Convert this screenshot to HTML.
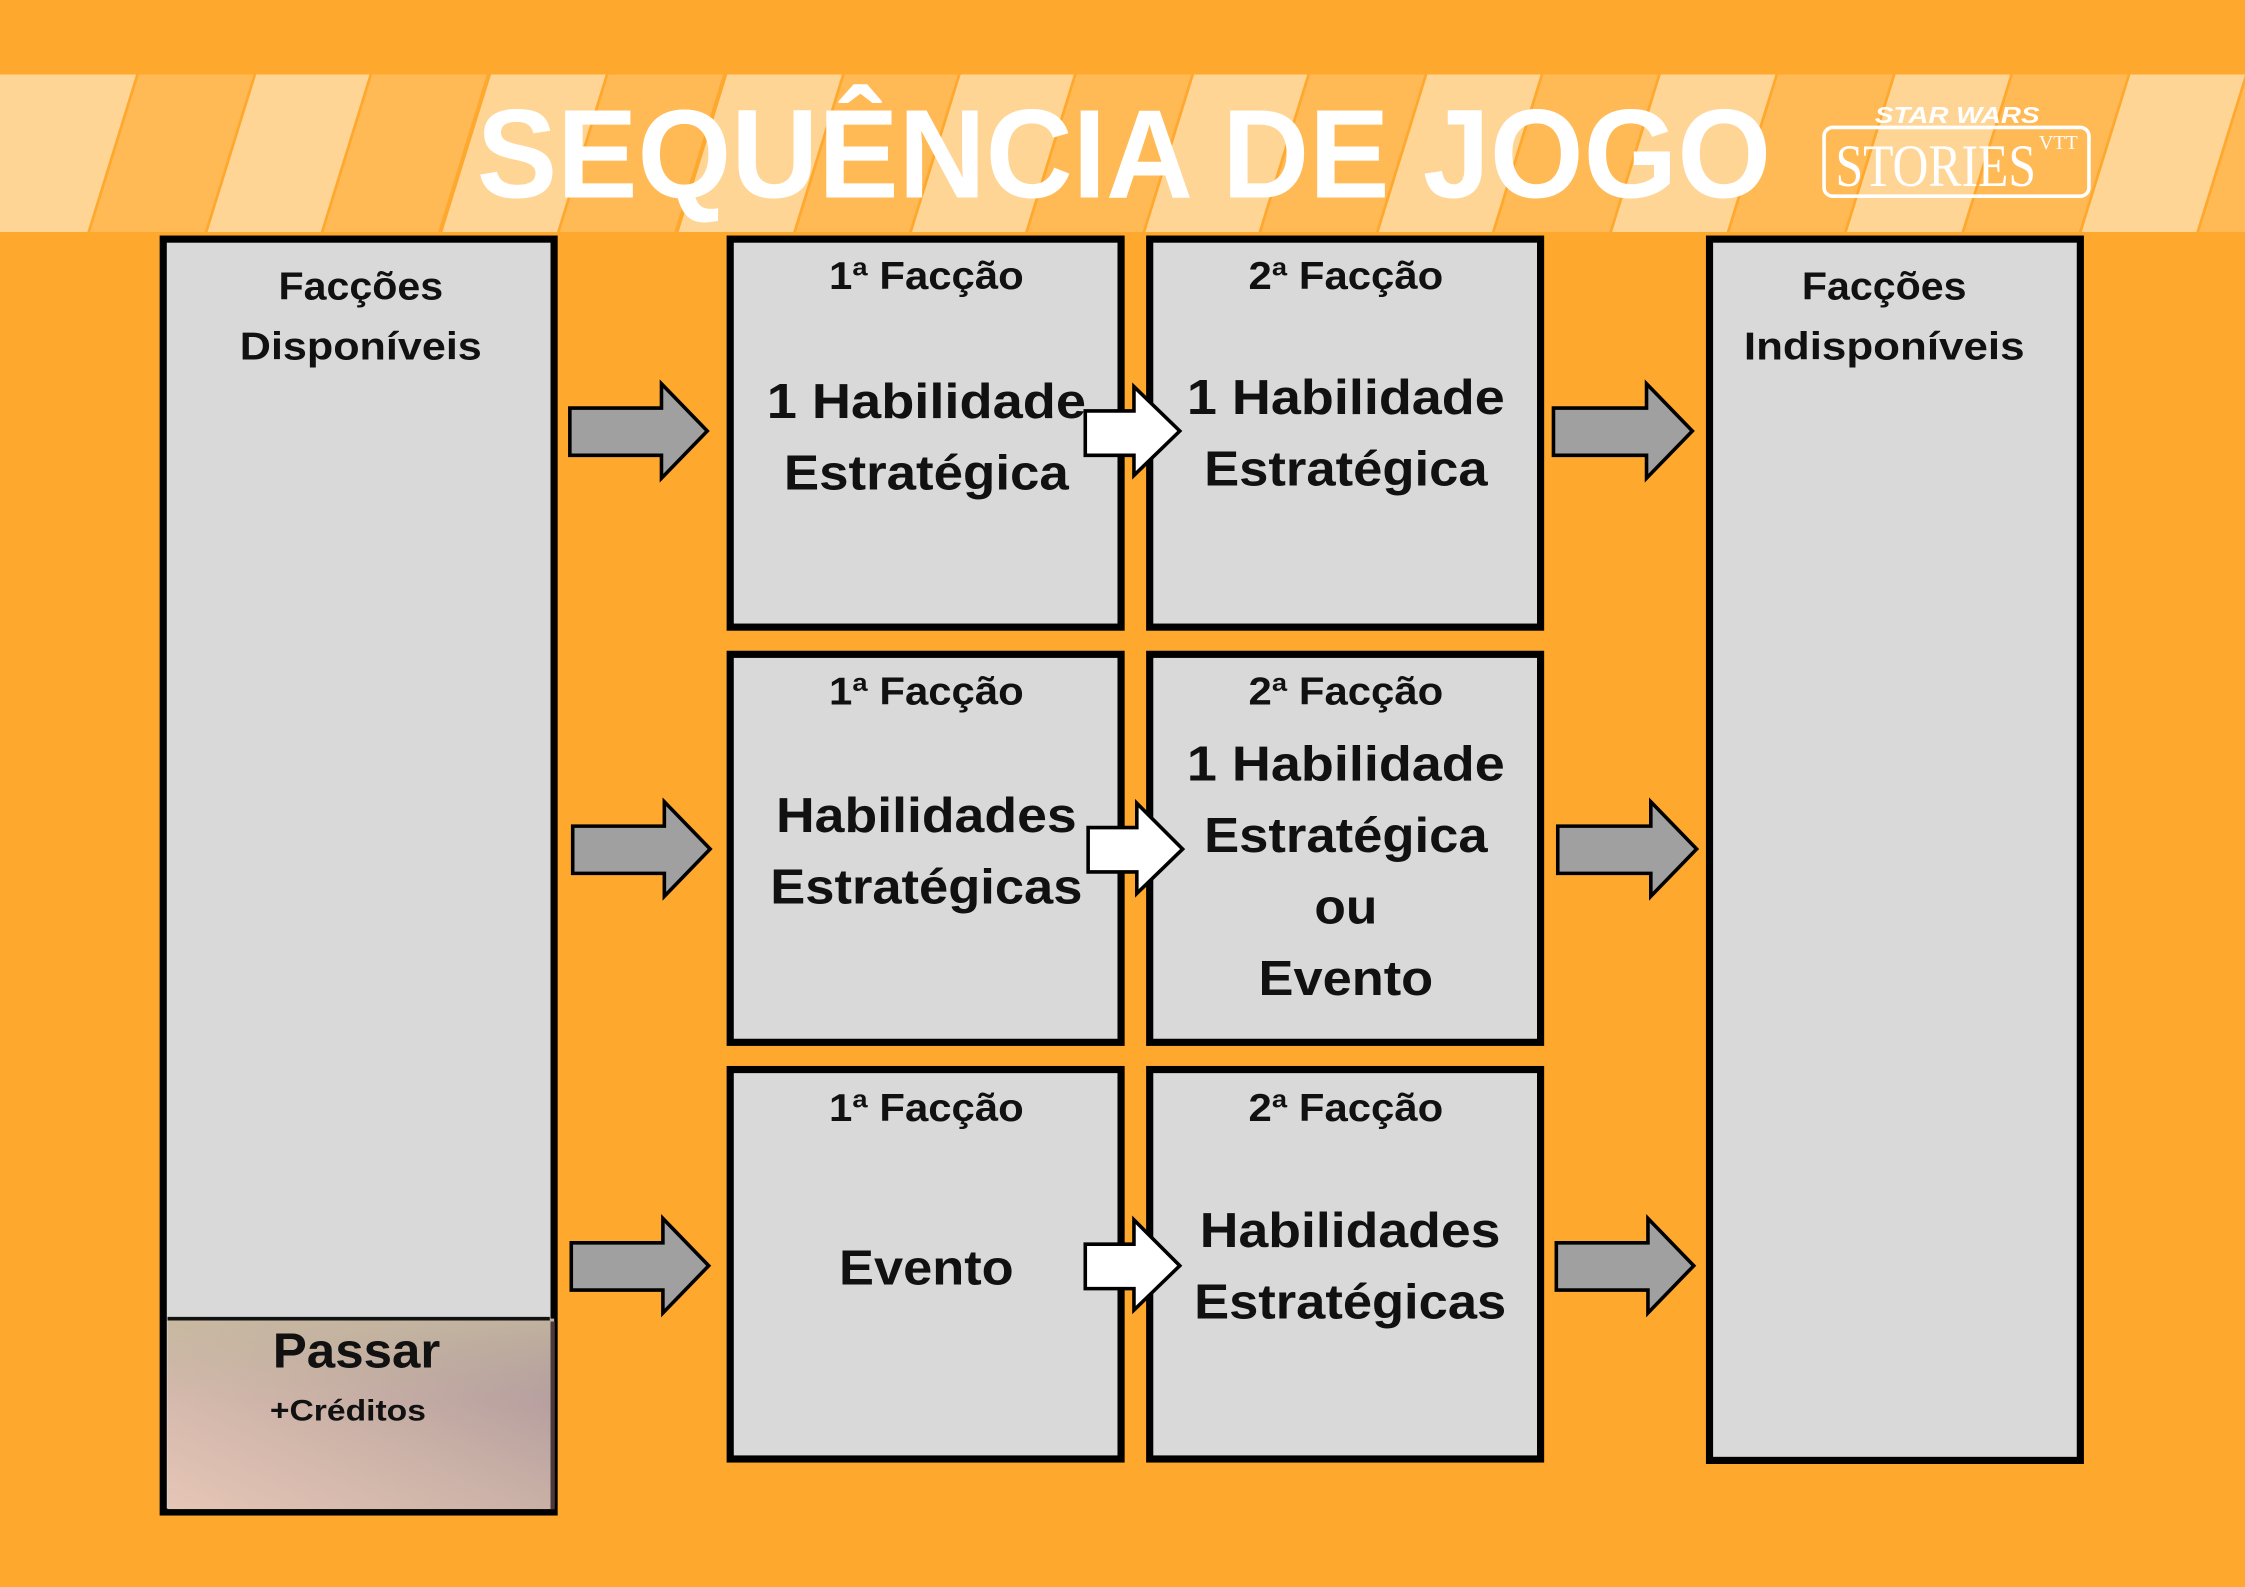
<!DOCTYPE html>
<html><head><meta charset="utf-8"><style>html,body{margin:0;padding:0;background:#FFA82E}svg{display:block}</style></head><body>
<svg width="2245" height="1587" viewBox="0 0 1568 1108.4" xmlns="http://www.w3.org/2000/svg" font-family="'Liberation Sans', 'DejaVu Sans', sans-serif" font-weight="bold">
<defs>
<linearGradient id="pg" x1="0" y1="1" x2="1" y2="0">
<stop offset="0" stop-color="#E6C6B6"/><stop offset="0.5" stop-color="#C9B0A6"/><stop offset="1" stop-color="#A8929A"/>
</linearGradient>
<linearGradient id="pg2" x1="0" y1="0" x2="0" y2="1">
<stop offset="0" stop-color="#C8BBA0" stop-opacity="0.8"/><stop offset="1" stop-color="#C8BBA0" stop-opacity="0"/>
</linearGradient>
</defs>
<rect width="1568" height="1109" fill="#FFA82E"/>
<rect x="0" y="52" width="20" height="110" fill="#FFD595"/>
<polygon points="20,52 95,52 61,162 -14,162" fill="#FFD595"/>
<polygon points="97,52 177,52 143,162 63,162" fill="#FFB955"/>
<polygon points="179,52 258,52 224,162 145,162" fill="#FFD595"/>
<polygon points="260,52 340,52 306,162 226,162" fill="#FFB955"/>
<polygon points="343,52 423,52 389,162 309,162" fill="#FFD595"/>
<polygon points="425,52 505,52 471,162 391,162" fill="#FFB955"/>
<polygon points="508,52 588,52 554,162 474,162" fill="#FFD595"/>
<polygon points="590,52 669,52 635,162 556,162" fill="#FFB955"/>
<polygon points="671,52 750,52 716,162 637,162" fill="#FFD595"/>
<polygon points="752,52 832,52 798,162 718,162" fill="#FFB955"/>
<polygon points="834,52 913,52 879,162 800,162" fill="#FFD595"/>
<polygon points="915,52 995,52 961,162 881,162" fill="#FFB955"/>
<polygon points="997,52 1076,52 1042,162 963,162" fill="#FFD595"/>
<polygon points="1078,52 1158,52 1124,162 1044,162" fill="#FFB955"/>
<polygon points="1160,52 1240,52 1206,162 1126,162" fill="#FFD595"/>
<polygon points="1242,52 1322,52 1288,162 1208,162" fill="#FFB955"/>
<polygon points="1324,52 1404,52 1370,162 1290,162" fill="#FFD595"/>
<polygon points="1406,52 1486,52 1452,162 1372,162" fill="#FFB955"/>
<polygon points="1488,52 1568,52 1534,162 1454,162" fill="#FFD595"/>
<polygon points="1570,52 1650,52 1616,162 1536,162" fill="#FFB955"/>
<text x="333" y="138" font-size="88" fill="#fff" textLength="904" lengthAdjust="spacingAndGlyphs">SEQUÊNCIA DE JOGO</text>
<text x="1367" y="86" font-size="16" fill="#fff" text-anchor="middle" font-style="italic" textLength="115" lengthAdjust="spacingAndGlyphs">STAR WARS</text>
<rect x="1274" y="89" width="185" height="48" rx="6" fill="none" stroke="#fff" stroke-width="2.5"/>
<text x="1282" y="130" font-size="42" fill="#fff" font-family="'Liberation Serif', serif" font-weight="normal" textLength="140" lengthAdjust="spacingAndGlyphs">STORIES</text>
<text x="1424" y="104" font-size="14" fill="#fff" font-family="'Liberation Serif', serif" font-weight="normal">VTT</text>
<g fill="#D9D9D9" stroke="#000" stroke-width="5">
<rect x="114" y="167" width="273" height="889"/>
<rect x="510" y="167" width="273" height="271"/>
<rect x="803" y="167" width="273" height="271"/>
<rect x="510" y="457" width="273" height="271"/>
<rect x="803" y="457" width="273" height="271"/>
<rect x="510" y="747" width="273" height="272"/>
<rect x="803" y="747" width="273" height="272"/>
<rect x="1194" y="167" width="259" height="853"/>
</g>
<rect x="117" y="921" width="270" height="133" fill="url(#pg)"/>
<rect x="117" y="921" width="270" height="60" fill="url(#pg2)"/>
<line x1="117" y1="921" x2="384" y2="921" stroke="#111" stroke-width="2.5"/>
<line x1="386" y1="923" x2="386" y2="1054" stroke="#4a3a3a" stroke-width="3"/>
<g fill="#A0A0A0" stroke="#000" stroke-width="2.5">
<polygon points="398,285 462,285 462,268 494,301 462,334 462,318 398,318"/>
<polygon points="400,577 464,577 464,560 496,593 464,626 464,610 400,610"/>
<polygon points="399,868 463,868 463,851 495,884 463,917 463,901 399,901"/>
<polygon points="1085,285 1150,285 1150,268 1182,301 1150,334 1150,318 1085,318"/>
<polygon points="1088,577 1153,577 1153,560 1185,593 1153,626 1153,610 1088,610"/>
<polygon points="1087,868 1151,868 1151,851 1183,884 1151,917 1151,901 1087,901"/>
</g>
<g fill="#fff" stroke="#000" stroke-width="2.5">
<polygon points="758,287 792,287 792,270 824,301 792,332 792,318 758,318"/>
<polygon points="760,578 794,578 794,561 826,593 794,624 794,609 760,609"/>
<polygon points="758,869 792,869 792,852 824,884 792,915 792,900 758,900"/>
</g>
<g fill="#111" text-anchor="middle" lengthAdjust="spacingAndGlyphs">
<text x="252" y="209" font-size="27" textLength="115" lengthAdjust="spacingAndGlyphs">Facções</text>
<text x="252" y="251" font-size="27" textLength="169" lengthAdjust="spacingAndGlyphs">Disponíveis</text>
<text x="1316" y="209" font-size="27" textLength="115" lengthAdjust="spacingAndGlyphs">Facções</text>
<text x="1316" y="251" font-size="27" textLength="196" lengthAdjust="spacingAndGlyphs">Indisponíveis</text>
<text x="249" y="955" font-size="34" textLength="117" lengthAdjust="spacingAndGlyphs">Passar</text>
<text x="243" y="992" font-size="21" textLength="109" lengthAdjust="spacingAndGlyphs">+Créditos</text>
<text x="647" y="202" font-size="27" textLength="136" lengthAdjust="spacingAndGlyphs">1ª Facção</text>
<text x="940" y="202" font-size="27" textLength="136" lengthAdjust="spacingAndGlyphs">2ª Facção</text>
<text x="647" y="492" font-size="27" textLength="136" lengthAdjust="spacingAndGlyphs">1ª Facção</text>
<text x="940" y="492" font-size="27" textLength="136" lengthAdjust="spacingAndGlyphs">2ª Facção</text>
<text x="647" y="783" font-size="27" textLength="136" lengthAdjust="spacingAndGlyphs">1ª Facção</text>
<text x="940" y="783" font-size="27" textLength="136" lengthAdjust="spacingAndGlyphs">2ª Facção</text>
<g font-size="34">
<text x="647" y="292" textLength="223" lengthAdjust="spacingAndGlyphs">1 Habilidade</text>
<text x="647" y="342" textLength="199" lengthAdjust="spacingAndGlyphs">Estratégica</text>
<text x="940" y="289" textLength="222" lengthAdjust="spacingAndGlyphs">1 Habilidade</text>
<text x="940" y="339" textLength="198" lengthAdjust="spacingAndGlyphs">Estratégica</text>
<text x="647" y="581" textLength="210" lengthAdjust="spacingAndGlyphs">Habilidades</text>
<text x="647" y="631" textLength="218" lengthAdjust="spacingAndGlyphs">Estratégicas</text>
<text x="940" y="545" textLength="222" lengthAdjust="spacingAndGlyphs">1 Habilidade</text>
<text x="940" y="595" textLength="198" lengthAdjust="spacingAndGlyphs">Estratégica</text>
<text x="940" y="645" textLength="44" lengthAdjust="spacingAndGlyphs">ou</text>
<text x="940" y="695" textLength="122" lengthAdjust="spacingAndGlyphs">Evento</text>
<text x="647" y="897" textLength="122" lengthAdjust="spacingAndGlyphs">Evento</text>
<text x="943" y="871" textLength="210" lengthAdjust="spacingAndGlyphs">Habilidades</text>
<text x="943" y="921" textLength="218" lengthAdjust="spacingAndGlyphs">Estratégicas</text>
</g>
</g>
</svg>
</body></html>
